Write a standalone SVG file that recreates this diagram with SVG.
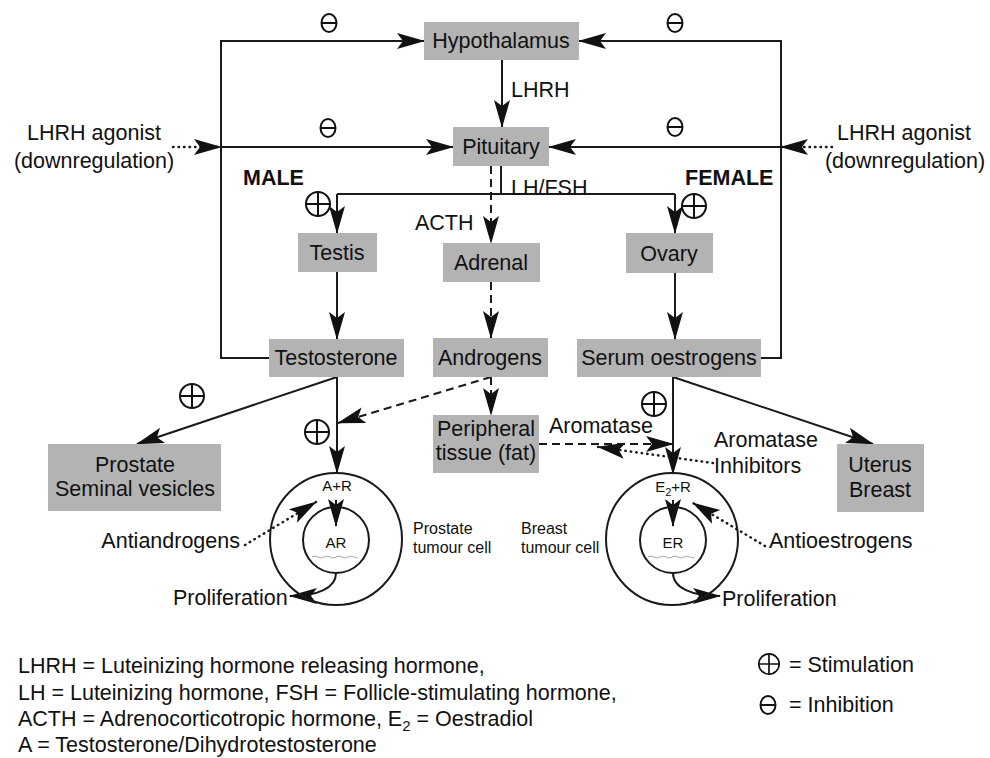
<svg xmlns="http://www.w3.org/2000/svg" width="990" height="758" viewBox="0 0 990 758">
<defs>
<style>
.box{fill:#b3b3b3;}
.t{font-family:"Liberation Sans",Arial,sans-serif;font-size:21.5px;fill:#111;}
.c{text-anchor:middle;}
.b{font-weight:bold;}
.s{font-size:16px;}
.xs{font-size:15px;}
.lg{font-size:21.5px;}
.ln{fill:none;stroke:#1a1a1a;stroke-width:2;}
.da{stroke-dasharray:8,5;}
.dt{stroke-dasharray:0.5,5;stroke-linecap:round;stroke-width:2.5;}
.sym{fill:none;stroke:#111;stroke-width:2;}
.wv{fill:none;stroke:#aaa;stroke-width:1;}
</style>
<marker id="ah" viewBox="0 0 28 18" refX="27" refY="9" markerWidth="28" markerHeight="18" orient="auto" markerUnits="userSpaceOnUse">
<path d="M0,1 L28,9 L0,17 L6,9 Z" fill="#111"/>
</marker>
<g id="plus"><circle r="12" class="sym"/><path d="M-12,0 H12 M0,-12 V12" class="sym"/></g>
<g id="minus"><ellipse rx="7.5" ry="9" class="sym"/><path d="M-7.5,0 H7.5" class="sym" stroke-width="2.5"/></g>
</defs>
<rect width="990" height="758" fill="#fff"/>

<g id="connectors">
<path class="ln" d="M269,358 H221 V41 H424" marker-end="url(#ah)"/>
<path class="ln" d="M221,147 H453" marker-end="url(#ah)"/>
<path class="ln" d="M761,358 H781 V41 H579" marker-end="url(#ah)"/>
<path class="ln" d="M781,147 H549" marker-end="url(#ah)"/>
<path class="ln dt" d="M173,147 H221" marker-end="url(#ah)"/>
<path class="ln dt" d="M832,147 H781" marker-end="url(#ah)"/>
<path class="ln" d="M502,60 V127" marker-end="url(#ah)"/>
<path class="ln" d="M501,166 V194"/>
<path class="ln" d="M337,194 H675"/>
<path class="ln" d="M337,194 V233" marker-end="url(#ah)"/>
<path class="ln" d="M675,194 V233" marker-end="url(#ah)"/>
<path class="ln da" d="M491,166 V243" marker-end="url(#ah)"/>
<path class="ln" d="M337,272 V339" marker-end="url(#ah)"/>
<path class="ln da" d="M491,282 V338" marker-end="url(#ah)"/>
<path class="ln" d="M675,273 V339" marker-end="url(#ah)"/>
<path class="ln" d="M337,377 L137,444" marker-end="url(#ah)"/>
<path class="ln" d="M337,377 V473" marker-end="url(#ah)"/>
<path class="ln da" d="M491,377 L338,423" marker-end="url(#ah)"/>
<path class="ln da" d="M491,377 V415" marker-end="url(#ah)"/>
<path class="ln da" d="M539,444 H673" marker-end="url(#ah)"/>
<path class="ln dt" d="M713,463 L598,447" marker-end="url(#ah)"/>
<path class="ln" d="M673,377 V474" marker-end="url(#ah)"/>
<path class="ln" d="M673,377 L873,444" marker-end="url(#ah)"/>
<path class="ln" d="M336,500 V526" marker-end="url(#ah)"/>
<path class="ln" d="M673,500 V526" marker-end="url(#ah)"/>
<path class="ln" d="M336,573 C336,588 318,596 290,596" marker-end="url(#ah)"/>
<path class="ln" d="M673,573 C673,588 692,596 720,596" marker-end="url(#ah)"/>
<path class="ln dt" d="M245,545 L316,502" marker-end="url(#ah)"/>
<path class="ln dt" d="M765,546 L693,503" marker-end="url(#ah)"/>
</g>

<g id="hypothalamus"><rect class="box" x="424" y="22" width="155" height="38"/><text class="t c" x="501" y="48">Hypothalamus</text></g>
<g id="pituitary"><rect class="box" x="453" y="127" width="96" height="39"/><text class="t c" x="501" y="154">Pituitary</text></g>
<g id="testis"><rect class="box" x="298" y="233" width="79" height="39"/><text class="t c" x="337" y="260">Testis</text></g>
<g id="adrenal"><rect class="box" x="443" y="243" width="97" height="39"/><text class="t c" x="491" y="270">Adrenal</text></g>
<g id="ovary"><rect class="box" x="626" y="233" width="87" height="40"/><text class="t c" x="669" y="261">Ovary</text></g>
<g id="testosterone"><rect class="box" x="269" y="339" width="135" height="38"/><text class="t c" x="336" y="365">Testosterone</text></g>
<g id="androgens"><rect class="box" x="433" y="338" width="115" height="39"/><text class="t c" x="490" y="365">Androgens</text></g>
<g id="serum"><rect class="box" x="577" y="339" width="184" height="38"/><text class="t c" x="669" y="365">Serum oestrogens</text></g>
<g id="prostate"><rect class="box" x="48" y="444" width="173" height="67"/><text class="t c" x="135" y="472">Prostate</text><text class="t c" x="135" y="496">Seminal vesicles</text></g>
<g id="peripheral"><rect class="box" x="433" y="415" width="106" height="58"/><text class="t c" x="486" y="436">Peripheral</text><text class="t c" x="486" y="460">tissue (fat)</text></g>
<g id="uterus"><rect class="box" x="837" y="444" width="87" height="68"/><text class="t c" x="880" y="472">Uterus</text><text class="t c" x="880" y="497">Breast</text></g>

<g id="prostate-cell">
<circle cx="336" cy="539" r="66" class="ln"/>
<circle cx="336" cy="540" r="33" class="ln"/>
<path class="wv" d="M312,557 q3,-2 6,0 t6,0 t6,0 t6,0 t6,0 t6,0 t6,0 t4,0"/>
<text class="t xs c" x="337" y="491">A+R</text>
<text class="t xs c" x="336" y="548">AR</text>
<text class="t s" x="413" y="534">Prostate</text>
<text class="t s" x="413" y="553">tumour cell</text>
</g>
<g id="breast-cell">
<circle cx="672" cy="539" r="66" class="ln"/>
<circle cx="673" cy="540" r="33" class="ln"/>
<path class="wv" d="M648,557 q3,-2 6,0 t6,0 t6,0 t6,0 t6,0 t6,0 t6,0 t5,0"/>
<text class="t xs c" x="673" y="492">E<tspan font-size="11" dy="4">2</tspan><tspan dy="-4">+R</tspan></text>
<text class="t xs c" x="673" y="548">ER</text>
<text class="t s" x="521" y="534">Breast</text>
<text class="t s" x="521" y="553">tumour cell</text>
</g>

<g id="labels">
<text class="t c" x="94" y="140">LHRH agonist</text>
<text class="t c" x="94" y="168">(downregulation)</text>
<text class="t c" x="904" y="140">LHRH agonist</text>
<text class="t c" x="905" y="168">(downregulation)</text>
<text class="t b" x="243" y="185">MALE</text>
<text class="t b" x="685" y="185">FEMALE</text>
<text class="t" x="511" y="97">LHRH</text>
<text class="t" x="511" y="195">LH/FSH</text>
<text class="t" x="415" y="230">ACTH</text>
<text class="t" x="549" y="433">Aromatase</text>
<text class="t" x="714" y="447">Aromatase</text>
<text class="t" x="714" y="473">Inhibitors</text>
<text class="t" x="240" y="548" text-anchor="end">Antiandrogens</text>
<text class="t" x="769" y="548">Antioestrogens</text>
<text class="t" x="173" y="605">Proliferation</text>
<text class="t" x="722" y="606">Proliferation</text>
</g>

<g id="signs">
<use href="#minus" x="329" y="23"/>
<use href="#minus" x="675" y="23"/>
<use href="#minus" x="328" y="128"/>
<use href="#minus" x="675" y="127"/>
<use href="#plus" x="318" y="204"/>
<use href="#plus" x="694" y="206"/>
<use href="#plus" x="192" y="396"/>
<use href="#plus" x="317" y="432"/>
<use href="#plus" x="654" y="404"/>
</g>

<g id="legend">
<text class="t lg" x="18" y="673">LHRH = Luteinizing hormone releasing hormone,</text>
<text class="t lg" x="18" y="700">LH = Luteinizing hormone, FSH = Follicle-stimulating hormone,</text>
<text class="t lg" x="18" y="726">ACTH = Adrenocorticotropic hormone, E<tspan font-size="15" dy="5">2</tspan><tspan dy="-5"> = Oestradiol</tspan></text>
<text class="t lg" x="18" y="752">A = Testosterone/Dihydrotestosterone</text>
<g transform="translate(769,664) scale(0.85)"><use href="#plus"/></g>
<text class="t lg" x="789" y="672">= Stimulation</text>
<use href="#minus" x="768" y="705"/>
<text class="t lg" x="789" y="712">= Inhibition</text>
</g>
</svg>
